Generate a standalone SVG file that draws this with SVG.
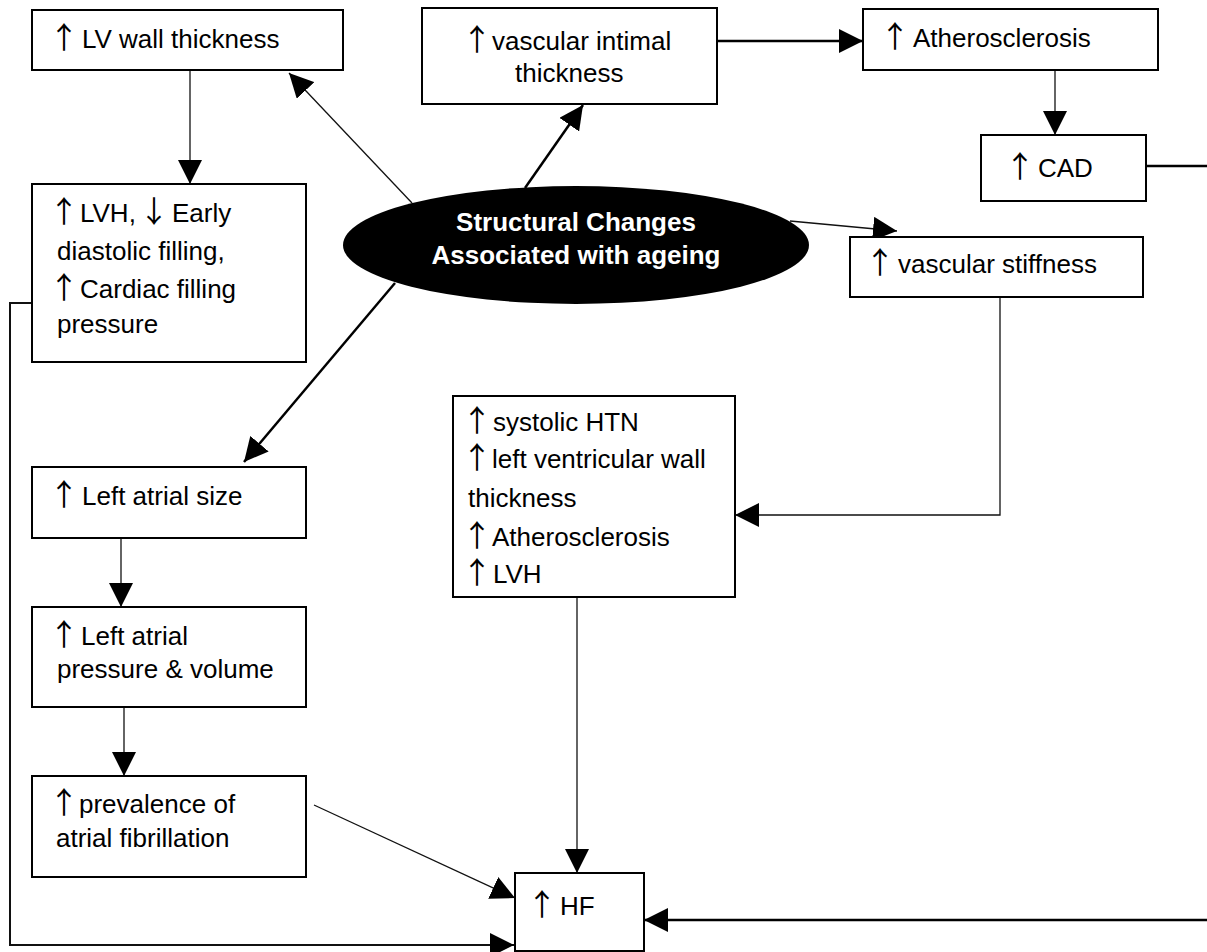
<svg xmlns="http://www.w3.org/2000/svg" width="1207" height="952" viewBox="0 0 1207 952">
<style>
.box{fill:#fff;stroke:#000;stroke-width:2}
.t{font-family:"Liberation Sans",Arial,sans-serif;font-size:26px;fill:#000}
.a{font-family:"Noto Sans CJK SC",sans-serif;font-size:30px;fill:#000}
.tb{font-family:"Liberation Sans",Arial,sans-serif;font-size:26px;font-weight:bold;fill:#fff;text-anchor:middle}
.thin{fill:none;stroke:#111;stroke-width:1.3}
.thick{fill:none;stroke:#000;stroke-width:2.5}
.mid{fill:none;stroke:#111;stroke-width:2}
</style>
<defs>
<marker id="ah" viewBox="0 0 24 24" refX="24" refY="12" markerWidth="24" markerHeight="24" markerUnits="userSpaceOnUse" orient="auto">
<path d="M0,0 L24,12 L0,24 z" fill="#000"/>
</marker>
</defs>
<rect width="1207" height="952" fill="#fff"/>
<g id="connectors">
<line class="thin" x1="412" y1="203" x2="289" y2="73" marker-end="url(#ah)"/>
<line class="thick" x1="525" y1="188" x2="583" y2="105" marker-end="url(#ah)"/>
<line class="thick" x1="717" y1="41" x2="863" y2="41" marker-end="url(#ah)"/>
<line class="thin" x1="1055" y1="70" x2="1055" y2="135" marker-end="url(#ah)"/>
<line class="thick" x1="1146" y1="166" x2="1207" y2="166"/>
<line class="thin" x1="790" y1="221" x2="897" y2="231" marker-end="url(#ah)"/>
<polyline class="thin" points="1000,297 1000,515 735,515" marker-end="url(#ah)"/>
<line class="thin" x1="190" y1="70" x2="190" y2="184" marker-end="url(#ah)"/>
<line class="thick" x1="395" y1="283" x2="244" y2="462" marker-end="url(#ah)"/>
<line class="thin" x1="121" y1="538" x2="121" y2="607" marker-end="url(#ah)"/>
<line class="thin" x1="124" y1="707" x2="124" y2="776" marker-end="url(#ah)"/>
<line class="thin" x1="314" y1="805" x2="515" y2="898" marker-end="url(#ah)"/>
<line class="thin" x1="577" y1="597" x2="577" y2="873" marker-end="url(#ah)"/>
<line class="thick" x1="1207" y1="920" x2="644" y2="920" marker-end="url(#ah)"/>
<polyline class="mid" points="32,303 10,303 10,945 514,945" marker-end="url(#ah)"/>
</g>
<g id="center">
<ellipse cx="576" cy="245" rx="233" ry="59" fill="#000"/>
<text class="tb" x="576" y="231">Structural Changes</text>
<text class="tb" x="576" y="264">Associated with ageing</text>
</g>
<g id="lv-wall">
<rect class="box" x="32" y="10" width="311" height="60"/>
<text class="a" x="49" y="48">↑</text>
<text class="t" x="82" y="48">LV wall thickness</text>
</g>
<g id="lvh">
<rect class="box" x="32" y="184" width="274" height="178"/>
<text class="a" x="49" y="222">↑</text>
<text class="t" x="80" y="222">LVH,</text>
<text class="a" x="139" y="222">↓</text>
<text class="t" x="172" y="222">Early</text>
<text class="t" x="57" y="260">diastolic filling,</text>
<text class="a" x="49" y="298">↑</text>
<text class="t" x="80" y="298">Cardiac filling</text>
<text class="t" x="57" y="333">pressure</text>
</g>
<g id="intimal">
<rect class="box" x="422" y="8" width="295" height="96"/>
<text class="a" x="462" y="50">↑</text>
<text class="t" x="492" y="50">vascular intimal</text>
<text class="t" x="515" y="82">thickness</text>
</g>
<g id="athero">
<rect class="box" x="863" y="9" width="295" height="61"/>
<text class="a" x="880" y="47">↑</text>
<text class="t" x="913" y="47">Atherosclerosis</text>
</g>
<g id="cad">
<rect class="box" x="981" y="135" width="165" height="66"/>
<text class="a" x="1005" y="177">↑</text>
<text class="t" x="1038" y="177">CAD</text>
</g>
<g id="stiffness">
<rect class="box" x="850" y="237" width="293" height="60"/>
<text class="a" x="865" y="273">↑</text>
<text class="t" x="898" y="273">vascular stiffness</text>
</g>
<g id="htn">
<rect class="box" x="453" y="396" width="282" height="201"/>
<text class="a" x="462" y="431">↑</text>
<text class="t" x="493" y="431">systolic HTN</text>
<text class="a" x="462" y="468">↑</text>
<text class="t" x="492" y="468">left ventricular wall</text>
<text class="t" x="468" y="507">thickness</text>
<text class="a" x="462" y="546">↑</text>
<text class="t" x="492" y="546">Atherosclerosis</text>
<text class="a" x="462" y="583">↑</text>
<text class="t" x="493" y="583">LVH</text>
</g>
<g id="la-size">
<rect class="box" x="32" y="467" width="274" height="71"/>
<text class="a" x="49" y="505">↑</text>
<text class="t" x="82" y="505">Left atrial size</text>
</g>
<g id="la-pressure">
<rect class="box" x="32" y="607" width="274" height="100"/>
<text class="a" x="49" y="645">↑</text>
<text class="t" x="81" y="645">Left atrial</text>
<text class="t" x="57" y="678">pressure &amp; volume</text>
</g>
<g id="afib">
<rect class="box" x="32" y="776" width="274" height="101"/>
<text class="a" x="49" y="813">↑</text>
<text class="t" x="79" y="813">prevalence of</text>
<text class="t" x="56" y="847">atrial fibrillation</text>
</g>
<g id="hf">
<rect class="box" x="515" y="873" width="129" height="78"/>
<text class="a" x="527" y="915">↑</text>
<text class="t" x="560" y="915">HF</text>
</g>
</svg>
